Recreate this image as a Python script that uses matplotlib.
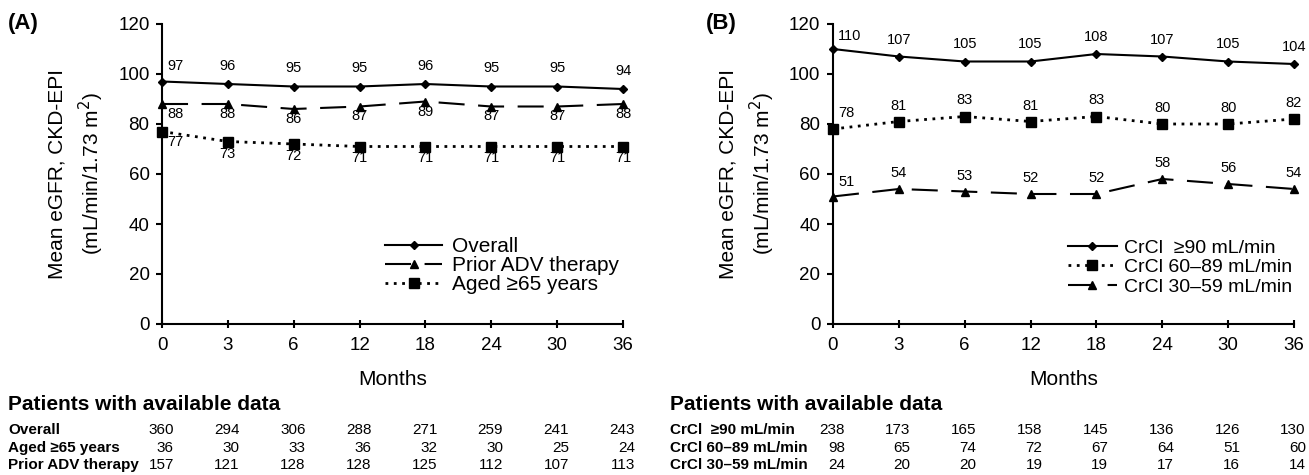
import numpy as np
import matplotlib
matplotlib.use("Agg")
import matplotlib.pyplot as plt
import matplotlib.transforms as mtransforms

plt.rcParams['font.family'] = ['Liberation Sans', 'DejaVu Sans']

months = ['0', '3', '6', '12', '18', '24', '30', '36']

# panel A
a_overall = [97, 96, 95, 95, 96, 95, 95, 94]
a_prior_adv = [88, 88, 86, 87, 89, 87, 87, 88]
a_aged65 = [77, 73, 72, 71, 71, 71, 71, 71]

# panel B
b_crcl90 = [110, 107, 105, 105, 108, 107, 105, 104]
b_crcl60 = [78, 81, 83, 81, 83, 80, 80, 82]
b_crcl30 = [51, 54, 53, 52, 52, 58, 56, 54]

# patients with available data
a_rows = ['Overall', 'Aged \u226565 years', 'Prior ADV therapy']
a_n_overall = [360, 294, 306, 288, 271, 259, 241, 243]
a_n_aged65 = [36, 30, 33, 36, 32, 30, 25, 24]
a_n_prior = [157, 121, 128, 128, 125, 112, 107, 113]

b_rows = ['CrCl  \u226590 mL/min', 'CrCl 60\u201389 mL/min', 'CrCl 30\u201359 mL/min']
b_n_90 = [238, 173, 165, 158, 145, 136, 126, 130]
b_n_60 = [98, 65, 74, 72, 67, 64, 51, 60]
b_n_30 = [24, 20, 20, 19, 19, 17, 16, 14]

W, H = 1309, 475
fig = plt.figure(figsize=(W/100, H/100), dpi=100)
axA = fig.add_axes([162/W, 1-324/H, 461/W, 300/H])
axB = fig.add_axes([833/W, 1-324/H, 461/W, 300/H])

x = np.arange(len(months))

SOLID = dict(color='black', lw=1.5, linestyle='-', marker='D', ms=4.5, clip_on=False)
DASH = dict(color='black', lw=1.5, linestyle=(0, (12.5, 6.5)), marker='^', ms=6, clip_on=False)
DOT = dict(color='black', lw=2.0, linestyle=(0, (1, 2.0)), marker='s', ms=6.5, clip_on=False)


def label_points(ax, vals, dy_px, first_dx_px=5, first_dy_px=None):
    # dy in pixels (dpi 100), label centre relative to point
    for i, v in enumerate(vals):
        if i == 0:
            dx, dy, ha = first_dx_px, (dy_px if first_dy_px is None else first_dy_px), 'left'
        else:
            dx, dy, ha = 0, dy_px, 'center'
        ax.annotate(str(v), (x[i], v), xytext=(dx, dy), textcoords='offset pixels',
                    ha=ha, va='center', fontsize=10.5, annotation_clip=False)


def style_axis(ax):
    ax.set_xlim(0, 7)
    ax.set_ylim(0, 120)
    ax.set_yticks(np.arange(0, 121, 20))
    ax.set_xticks(x)
    ax.set_xticklabels(months)
    for s in ['top', 'right']:
        ax.spines[s].set_visible(False)
    for s in ['left', 'bottom']:
        ax.spines[s].set_linewidth(1.5)
    ax.tick_params(axis='y', direction='out', length=4, width=1.5, labelsize=13.5, pad=5)
    ax.tick_params(axis='x', direction='inout', length=6, width=1.5, labelsize=13.5, pad=6)
    ax.set_xlabel('Months', fontsize=15, labelpad=12)
    ax.set_ylabel('Mean eGFR, CKD-EPI\n(mL/min/1.73 m$^{2}$)', fontsize=15,
                  linespacing=1.45, labelpad=9)


LEG = dict(frameon=False, borderpad=0, borderaxespad=0, loc='upper left')

# ---- panel A
axA.plot(x, a_overall, label='Overall', **SOLID)
axA.plot(x, a_prior_adv, label='Prior ADV therapy', **DASH)
axA.plot(x, a_aged65, label='Aged \u226565 years', **DOT)
style_axis(axA)
label_points(axA, a_overall, 18, first_dy_px=15)
label_points(axA, a_prior_adv, -10)
label_points(axA, a_aged65, -12, first_dy_px=-10)
axA.legend(bbox_to_anchor=(385/W, 1-237/H), bbox_transform=fig.transFigure,
           fontsize=15, handlelength=2.75, handletextpad=0.45, labelspacing=0.0, **LEG)

# ---- panel B
axB.plot(x, b_crcl90, label='CrCl  \u226590 mL/min', **SOLID)
axB.plot(x, b_crcl60, label='CrCl 60\u201389 mL/min', **DOT)
axB.plot(x, b_crcl30, label='CrCl 30\u201359 mL/min', **DASH)
style_axis(axB)
label_points(axB, b_crcl90, 17, first_dy_px=13)
label_points(axB, b_crcl60, 16, first_dy_px=16)
label_points(axB, b_crcl30, 16, first_dy_px=14)
axB.legend(bbox_to_anchor=(1068/W, 1-239/H), bbox_transform=fig.transFigure,
           fontsize=14, handlelength=2.5, handletextpad=0.4, labelspacing=0.1, **LEG)

fig.text(8/W, 1-24/H, '(A)', fontsize=16, fontweight='bold', va='center')
fig.text(706/W, 1-24/H, '(B)', fontsize=16, fontweight='bold', va='center')


# ---- tables
def draw_table(ax, left_px, row_labels, counts):
    tr = mtransforms.blended_transform_factory(ax.transData, fig.transFigure)
    fig.text(left_px/W, 1-405/H, 'Patients with available data', fontsize=15,
             fontweight='bold', va='center')
    row_y = [430, 448, 465]
    for lab, vals, ry in zip(row_labels, counts, row_y):
        fig.text(left_px/W, 1-ry/H, lab, fontsize=11, fontweight='bold', va='center')
        for i, v in enumerate(vals):
            ax.text(x[i] + 0.18, 1-ry/H, str(v), transform=tr, ha='right', va='center',
                    fontsize=11, clip_on=False)


draw_table(axA, 8, a_rows, [a_n_overall, a_n_aged65, a_n_prior])
draw_table(axB, 670, b_rows, [b_n_90, b_n_60, b_n_30])

fig.savefig('out.png', dpi=100)
